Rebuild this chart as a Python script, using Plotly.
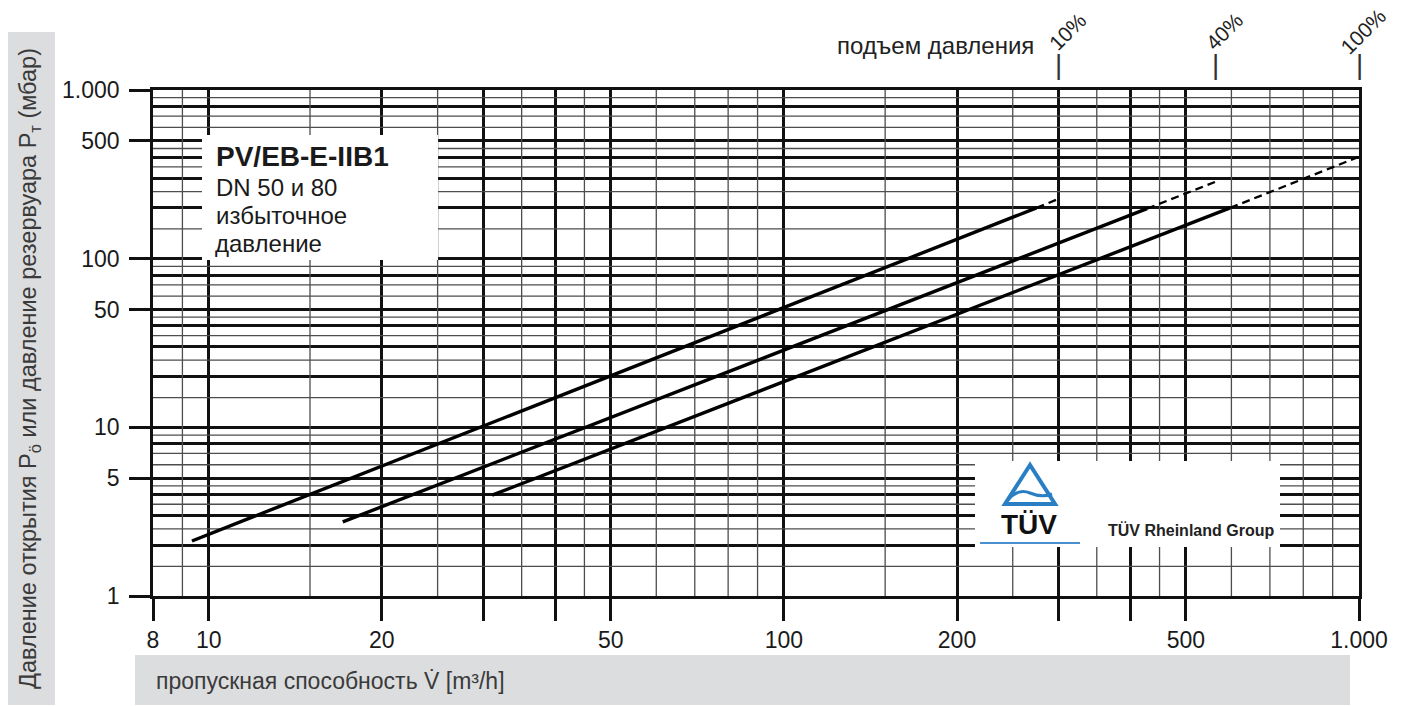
import math
import plotly.graph_objects as go

# ---------------- data ----------------
# flow rate V [m3/h] vs opening pressure [mbar]; three characteristic lines
line1_solid_x = [9.35, 100, 275]
line1_solid_y = [2.12, 51, 200]
line1_dash_x = [275, 300]
line1_dash_y = [200, 226]

line2_solid_x = [17.1, 100, 428]
line2_solid_y = [2.75, 28.6, 198]
line2_dash_x = [428, 562]
line2_dash_y = [198, 285]

line3_solid_x = [31.1, 100, 597]
line3_solid_y = [3.96, 18.6, 200]
line3_dash_x = [597, 1000]
line3_dash_y = [200, 402]

rise_labels = ["10%", "40%", "100%"]
rise_x = [line1_dash_x[-1], line2_dash_x[-1], line3_dash_x[-1]]

# axis ticks / grid
x_labeled = [8, 10, 20, 50, 100, 200, 500, 1000]
x_labeled_text = ["8", "10", "20", "50", "100", "200", "500", "1.000"]
x_unlabeled = [30, 40, 300, 400]
x_thin = [9, 15, 25, 35, 45, 60, 70, 80, 90, 150, 250, 350, 450, 600, 700, 800, 900]

y_labeled = [1, 5, 10, 50, 100, 500, 1000]
y_labeled_text = ["1", "5", "10", "50", "100", "500", "1.000"]
y_thick = [2, 3, 4, 8, 20, 30, 40, 80, 200, 300, 400, 800]
y_thin = [1.5, 2.5, 3.5, 4.5, 6, 7, 9, 15, 25, 35, 45, 60, 70, 90,
          150, 250, 350, 450, 600, 700, 900]

FONT = "Liberation Sans, Arial, Helvetica, sans-serif"
OFF = 8                      # page body margin
W, H = 1407 - OFF, 706 - OFF
PL, PR, PT, PB = 153, 1359, 90, 596   # plot area in page pixels
ML, MR, MT, MB = PL - OFF, W - (PR - OFF), PT - OFF, H - (PB - OFF)
PW = PR - PL
PH = PB - PT


def px(x):
    return (x - PL) / PW


def py(y):
    return (PB - y) / PH


fig = go.Figure()

# thin grid lines
tx, ty = [], []
for v in x_thin:
    tx += [v, v, None]
    ty += [y_labeled[0], y_labeled[-1], None]
for v in y_thin:
    tx += [x_labeled[0], x_labeled[-1], None]
    ty += [v, v, None]
fig.add_trace(go.Scatter(x=tx, y=ty, mode="lines", hoverinfo="skip",
                         line=dict(color="#4d4d4d", width=1.3), showlegend=False))

for sx, sy, dx, dy in [
    (line1_solid_x, line1_solid_y, line1_dash_x, line1_dash_y),
    (line2_solid_x, line2_solid_y, line2_dash_x, line2_dash_y),
    (line3_solid_x, line3_solid_y, line3_dash_x, line3_dash_y),
]:
    fig.add_trace(go.Scatter(x=sx, y=sy, mode="lines", showlegend=False,
                             line=dict(color="#000000", width=3.4)))
    fig.add_trace(go.Scatter(x=dx, y=dy, mode="lines", showlegend=False,
                             line=dict(color="#000000", width=2.3, dash="8px,5px")))

BLUE = "#2a7fc4"
shapes = [
    # grey title bands
    dict(type="rect", xref="paper", yref="paper", x0=px(5), x1=px(55), y0=py(705), y1=py(32),
         fillcolor="#dcdddf", line=dict(width=0), layer="below"),
    dict(type="rect", xref="paper", yref="paper", x0=px(135), x1=px(1350), y0=py(705), y1=py(655),
         fillcolor="#dcdddf", line=dict(width=0), layer="below"),
    # legend box
    dict(type="rect", xref="paper", yref="paper", x0=px(202), x1=px(438), y0=py(260), y1=py(135),
         fillcolor="white", line=dict(width=0), layer="above"),
    # TUV box
    dict(type="rect", xref="paper", yref="paper", x0=px(975), x1=px(1280), y0=py(547), y1=py(461),
         fillcolor="white", line=dict(width=0), layer="above"),
    # TUV triangle
    dict(type="path", xref="paper", yref="paper",
         path="M %f,%f L %f,%f L %f,%f Z" % (px(1030), py(465), px(1005), py(504), px(1055), py(504)),
         line=dict(color=BLUE, width=4), fillcolor="rgba(0,0,0,0)", layer="above"),
    dict(type="path", xref="paper", yref="paper",
         path="M %f,%f Q %f,%f %f,%f Q %f,%f %f,%f" % (
             px(1008), py(500), px(1018), py(488), px(1030), py(493),
             px(1042), py(498), px(1052), py(494)),
         line=dict(color=BLUE, width=3), fillcolor="rgba(0,0,0,0)", layer="above"),
    dict(type="line", xref="paper", yref="paper", x0=px(980), x1=px(1080), y0=py(543), y1=py(543),
         line=dict(color="#4a90d0", width=2), layer="above"),
]

annotations = [
    dict(text="Давление открытия P<sub>ö</sub> или давление резервуара P<sub>т</sub> (мбар)",
         xref="paper", yref="paper", x=px(30), y=py(369), textangle=-90, showarrow=False,
         font=dict(family=FONT, size=23.5, color="#3a3a3a"), xanchor="center", yanchor="middle"),
    dict(text="пропускная способность V\u0307 [m³/h]", xref="paper", yref="paper",
         x=px(154), y=py(681), showarrow=False, xanchor="left", yanchor="middle",
         font=dict(family=FONT, size=23, color="#3a3a3a")),
    dict(text="<b>PV/EB-E-IIB1</b>", xref="paper", yref="paper", x=px(214), y=py(156),
         showarrow=False, xanchor="left", yanchor="middle",
         font=dict(family=FONT, size=28, color="#1a1a1a")),
    dict(text="DN 50 и 80", xref="paper", yref="paper", x=px(214), y=py(187),
         showarrow=False, xanchor="left", yanchor="middle",
         font=dict(family=FONT, size=24, color="#1a1a1a")),
    dict(text="избыточное", xref="paper", yref="paper", x=px(214), y=py(215),
         showarrow=False, xanchor="left", yanchor="middle",
         font=dict(family=FONT, size=24, color="#1a1a1a")),
    dict(text="давление", xref="paper", yref="paper", x=px(213), y=py(243),
         showarrow=False, xanchor="left", yanchor="middle",
         font=dict(family=FONT, size=24, color="#1a1a1a")),
    dict(text="<b>TÜV</b>", xref="paper", yref="paper", x=px(1029), y=py(524),
         showarrow=False, xanchor="center", yanchor="middle",
         font=dict(family=FONT, size=28, color="#111111")),
    dict(text="<b>TÜV Rheinland Group</b>", xref="paper", yref="paper", x=px(1106), y=py(530),
         showarrow=False, xanchor="left", yanchor="middle",
         font=dict(family=FONT, size=16, color="#222222")),
    dict(text="подъем давления", xref="paper", yref="paper", x=px(1036), y=py(45),
         showarrow=False, xanchor="right", yanchor="middle",
         font=dict(family=FONT, size=24, color="#222222")),
]

shifts = [9, 9, 4]
for lab, xv, sh in zip(rise_labels, rise_x, shifts):
    annotations.append(dict(text="|", xref="x", yref="paper", x=math.log10(xv), y=py(64),
                            showarrow=False, xanchor="center", yanchor="middle",
                            font=dict(family=FONT, size=28, color="#333333")))
    annotations.append(dict(text=lab, xref="x", yref="paper", x=math.log10(xv), y=py(31),
                            xshift=sh, showarrow=False, textangle=-45,
                            xanchor="center", yanchor="middle",
                            font=dict(family=FONT, size=21, color="#222222")))

fig.update_layout(
    width=W, height=H,
    margin=dict(l=ML, r=MR, t=MT, b=MB, pad=0),
    paper_bgcolor="white", plot_bgcolor="white",
    showlegend=False,
    shapes=shapes, annotations=annotations,
    font=dict(family=FONT, color="#1a1a1a"),
    xaxis=dict(type="log", range=[math.log10(8), 3],
               tickmode="array", tickvals=x_labeled, ticktext=x_labeled_text,
               showgrid=True, gridcolor="#111111", gridwidth=2.6,
               ticks="outside", ticklen=22, tickwidth=2.6, tickcolor="#111111",
               tickfont=dict(family=FONT, size=23, color="#1a1a1a"),
               showline=True, mirror=True, linecolor="#111111", linewidth=2.6,
               zeroline=False,
               minor=dict(tickvals=x_unlabeled, showgrid=True, gridcolor="#111111",
                          gridwidth=2.6, ticks="outside", ticklen=22, tickwidth=2.6,
                          tickcolor="#111111")),
    yaxis=dict(type="log", range=[0, 3],
               tickmode="array", tickvals=y_labeled, ticktext=y_labeled_text,
               showgrid=True, gridcolor="#111111", gridwidth=2.6,
               ticks="outside", ticklen=21, tickwidth=2.6, tickcolor="#111111",
               tickfont=dict(family=FONT, size=23, color="#1a1a1a"),
               ticklabelstandoff=5,
               showline=True, mirror=True, linecolor="#111111", linewidth=2.6,
               zeroline=False,
               minor=dict(tickvals=y_thick, showgrid=True, gridcolor="#111111",
                          gridwidth=2.6, ticks="")),
)

fig.write_html("out.html")
